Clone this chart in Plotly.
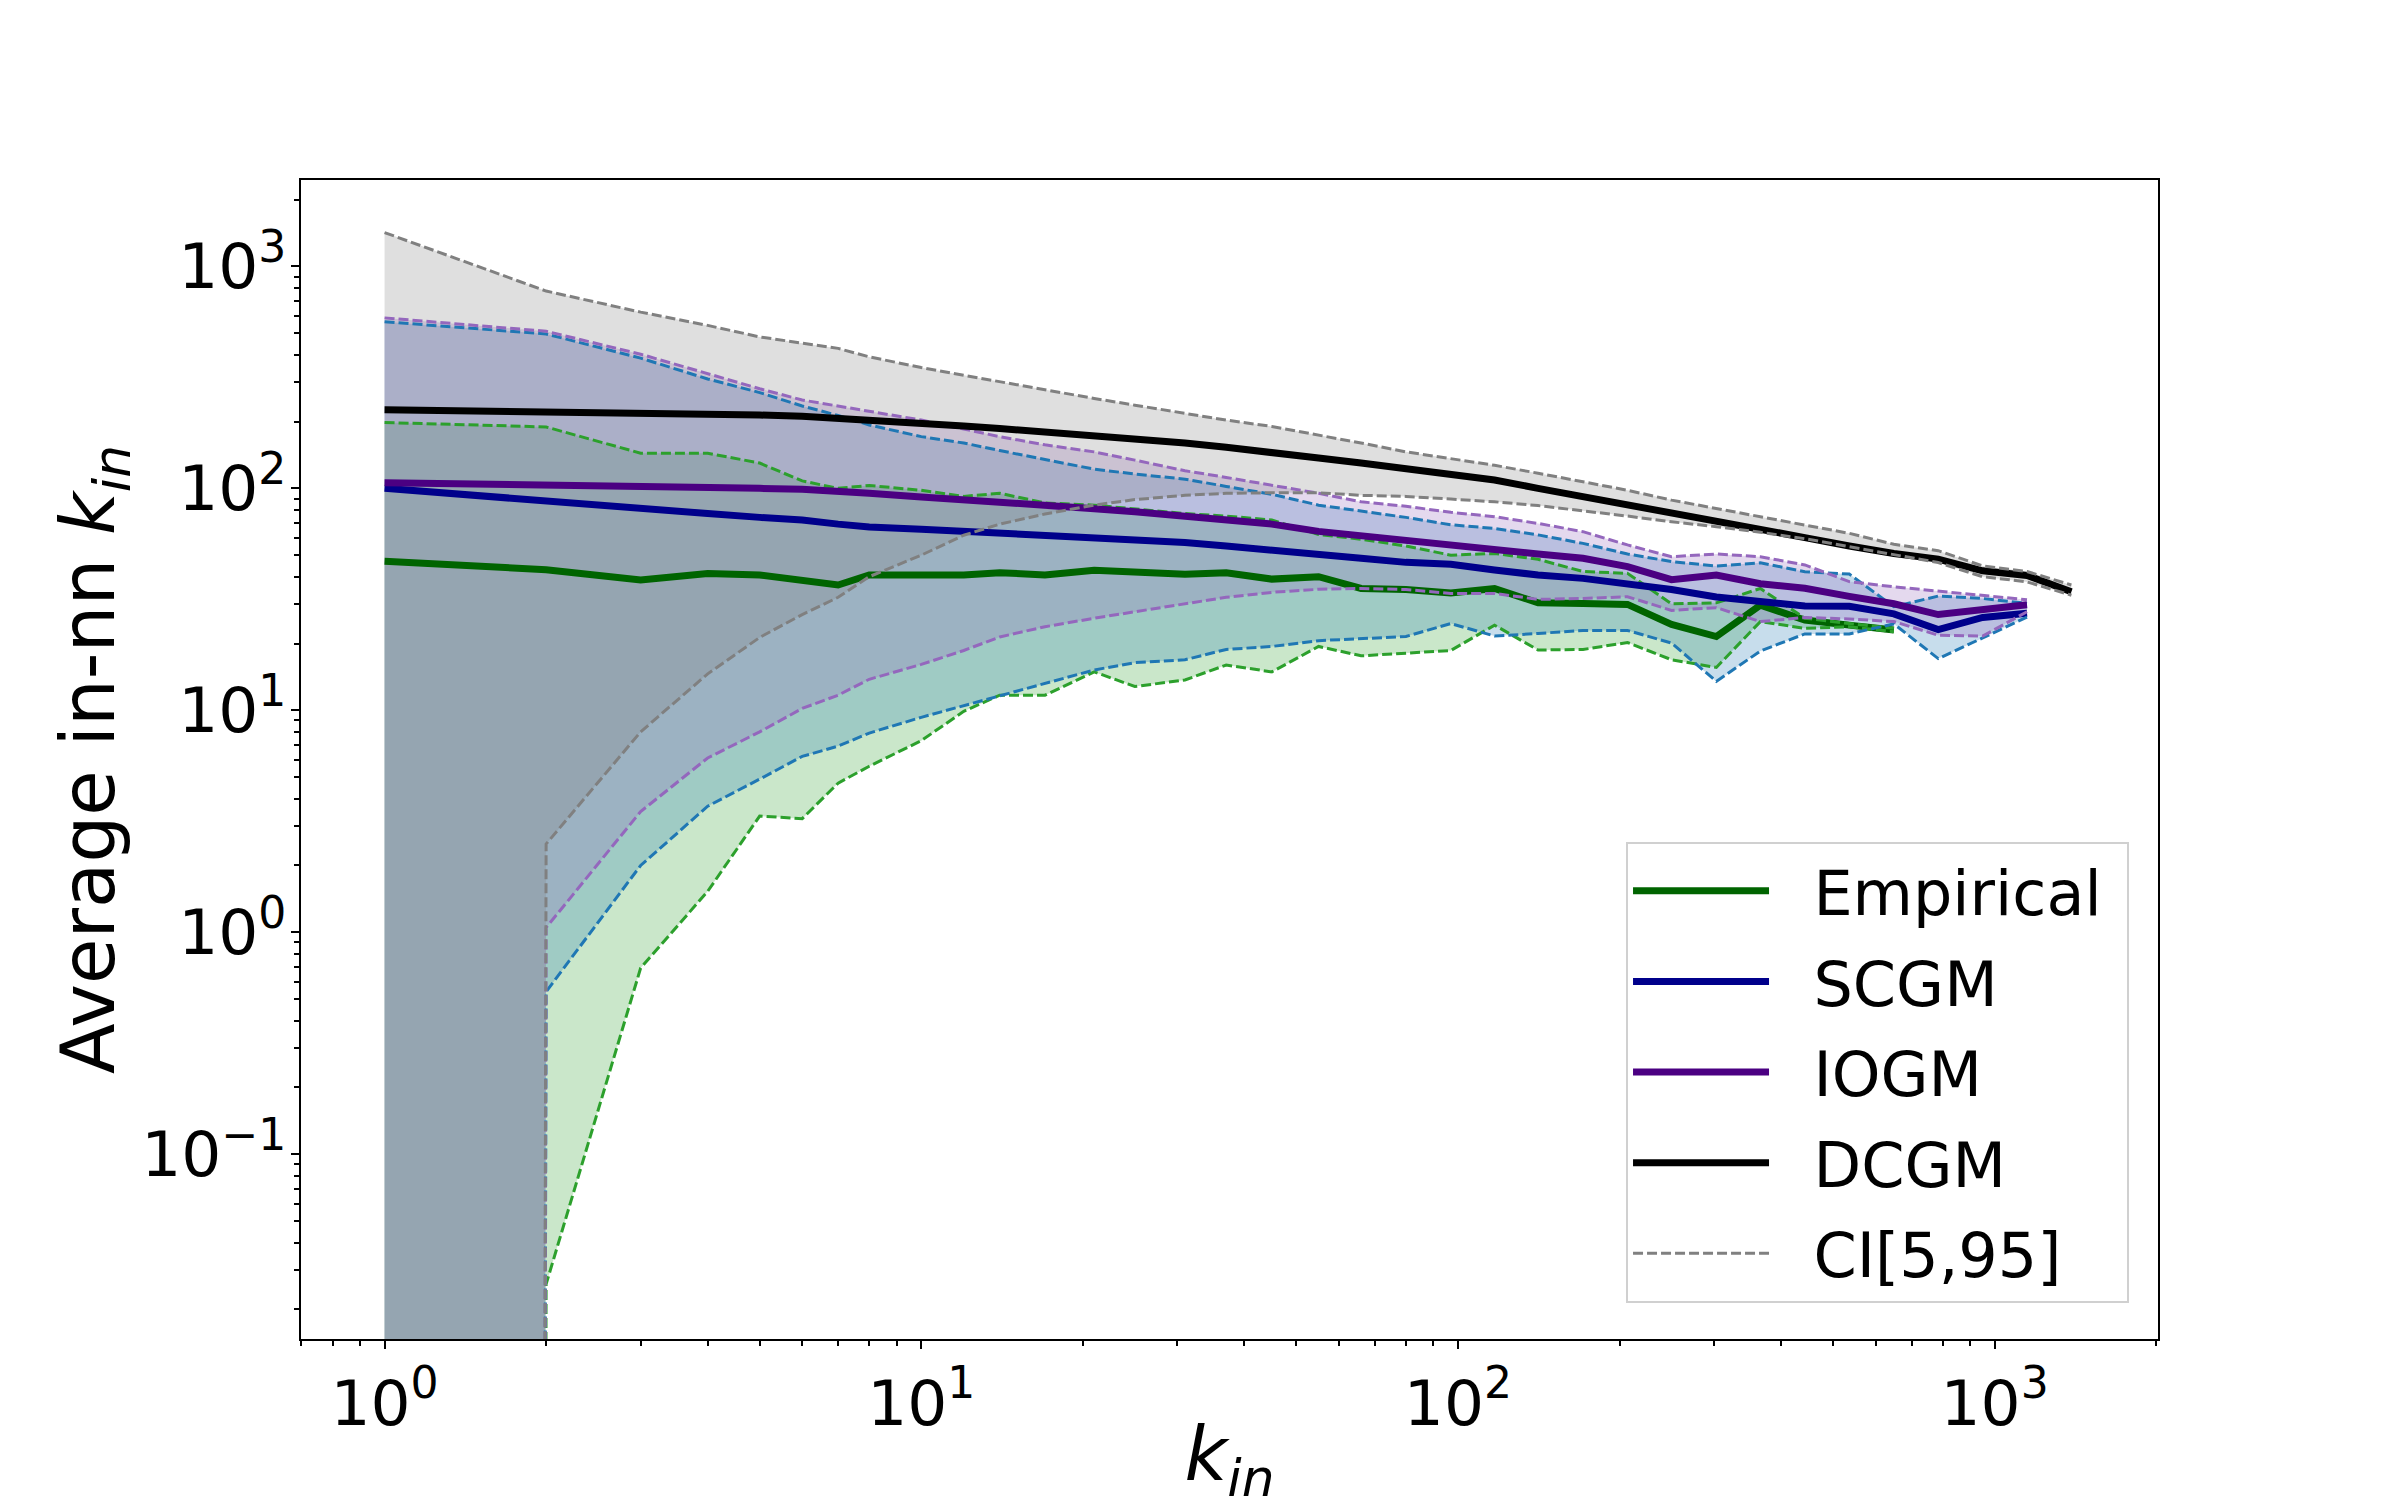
import numpy as np
import plotly.graph_objects as go

# in-degree grid (log binned)
k_in = [1, 2, 3, 4, 5, 6, 7, 8, 10, 12, 14, 17, 21, 25, 31, 37, 45, 55, 66, 80,
        97, 117, 141, 171, 207, 250, 303, 366, 443, 536, 649, 785, 950, 1149, 1390]

# --- Empirical (ends at k=649) ---
emp_mean = [47, 43, 38.7, 41.3, 40.7, 38.7, 36.7, 40.7, 40.3, 40.7, 41.7, 40.7, 42.8, 41.7,
            41.0, 41.7, 39, 40, 35.4, 35, 33.8, 35.4, 30.5, 30.3, 30, 24.4, 21.5, 29.8,
            25.5, 24.2, 23]
emp_hi = [198, 189, 144, 144, 130, 108, 100, 103, 98, 92, 95, 86, 84, 81, 77, 75, 72, 62,
          59, 55, 50, 50.9, 47.9, 42.2, 41.4, 30.2, 30.5, 35.4, 26, 24.6, 23.4]
emp_lo = [0, 0.026, 0.69, 1.53, 3.34, 3.25, 4.7, 5.6, 7.3, 9.9, 11.7, 11.7, 14.9, 12.8,
          13.7, 16, 14.9, 19.4, 17.6, 18.1, 18.6, 24.2, 18.7, 18.8, 20.2, 16.9, 15.6,
          25.1, 23.4, 23.8, 22.6]

# --- SCGM (ends at k=1149) ---
scgm_mean = [100, 87, 80.5, 77, 74, 72, 69, 67, 65.5, 64, 63, 61.7, 60, 59, 57, 55, 52.4,
             50.6, 48.4, 46.4, 45.5, 42.9, 40.7, 39.3, 37.4, 35, 32.4, 30.9, 29.5, 29.4,
             27.2, 23.1, 26.2, 27.4]
scgm_hi = [563, 496, 386, 311, 270, 235, 213, 193, 171, 160, 148, 135, 122, 116, 110, 102,
           94, 84, 79, 74, 68.5, 66, 61.7, 56.5, 50.6, 46.8, 44.7, 46.2, 42.1, 41.1,
           29.3, 32.7, 31.9, 30.3]
scgm_lo = [0, 0.54, 2.0, 3.7, 4.9, 6.2, 6.9, 7.9, 9.3, 10.5, 11.6, 13.2, 15.2, 16.4, 16.9,
           18.8, 19.4, 20.6, 21.1, 21.5, 24.6, 21.6, 22.2, 22.9, 22.9, 20.1, 13.5, 18.5,
           22.1, 22.1, 24.5, 17.1, 21.2, 26.3]

# --- IOGM (ends at k=1149) ---
iogm_mean = [106, 104, 103, 102, 100, 99, 96, 95, 91.5, 89, 87, 85, 81, 78.5, 75, 72, 69,
             64, 61, 58.5, 55.3, 52.7, 50.6, 48.4, 44.4, 38.8, 40.7, 37.2, 35.5, 32.6,
             30.2, 27, 28.6, 29.9]
iogm_hi = [586, 510, 402, 330, 281, 250, 235, 222, 203, 185, 171, 157, 146, 134, 120, 112,
           103, 95, 87, 83, 78, 74.5, 69.5, 63.8, 55.6, 49.2, 50.6, 49.2, 45.2, 38, 36,
           34.5, 33, 31.5]
iogm_lo = [0, 1.05, 3.5, 6.1, 8.0, 10.2, 11.7, 13.8, 16.1, 18.6, 21.4, 23.8, 26, 27.8,
           30.3, 32.3, 34, 35.1, 35.4, 35, 33.6, 33.6, 31.6, 31.9, 32.5, 28.2, 29, 25.1,
           26.2, 25.8, 25.1, 21.8, 21.6, 27.8]

# --- DCGM (ends at k=1390) ---
dcgm_mean = [226, 222, 220, 217, 214, 211, 207, 203, 197, 191, 186, 180, 174, 168, 160,
             153, 146, 137, 130, 122, 114, 109, 100, 92, 84, 77, 70.7, 66, 60, 55, 50.9,
             48, 42.5, 40.5, 34.2]
dcgm_hi = [1420, 774, 622, 542, 481, 450, 427, 391, 350, 323, 302, 277, 254, 237, 218,
           203, 190, 174, 160, 146, 136, 127, 117, 107, 98, 88.5, 81, 74.5, 68.4, 62.7,
           56, 52.4, 44.7, 42.2, 36.7]
dcgm_lo = [0, 2.5, 8, 14.6, 21.3, 27, 32.3, 40, 50, 61.5, 69, 76.6, 84, 89, 93, 95, 95.5,
           95.5, 93, 92, 89.5, 87, 83.6, 79.3, 75, 70.7, 67.2, 63.4, 59.3, 54.6, 50.1,
           46.3, 40, 37.9, 33]

x_ticks = [1, 10, 100, 1000]
x_ticktext = ["10<sup>0</sup>", "10<sup>1</sup>", "10<sup>2</sup>", "10<sup>3</sup>"]
y_ticks = [0.1, 1, 10, 100, 1000]
y_ticktext = ["10<sup>\u22121</sup>", "10<sup>0</sup>", "10<sup>1</sup>",
              "10<sup>2</sup>", "10<sup>3</sup>"]

models = [
    # name, mean, lo, hi, line colour, CI colour, fill colour
    ("Empirical", emp_mean, emp_lo, emp_hi, "#006400", "#2ca02c", "rgba(44,160,44,0.25)"),
    ("SCGM", scgm_mean, scgm_lo, scgm_hi, "#00008b", "#1f77b4", "rgba(31,119,180,0.25)"),
    ("IOGM", iogm_mean, iogm_lo, iogm_hi, "#4b0082", "#9467bd", "rgba(148,103,189,0.25)"),
    ("DCGM", dcgm_mean, dcgm_lo, dcgm_hi, "black", "gray", "rgba(128,128,128,0.25)"),
]

PAD = "\u00a0\u00a0"  # a little room between legend sample and label


def clip(v):
    # zeros can't live on a log axis, push them far below the view like matplotlib does
    return np.clip(np.asarray(v, dtype=float), 1e-300, None)


def label(s):
    return PAD + s + "\u00a0"


fig = go.Figure()

# fills go underneath every line
for name, mean, lo, hi, lc, cc, fc in models:
    x = k_in[:len(mean)]
    fig.add_trace(go.Scatter(x=x, y=clip(lo), mode="lines", line=dict(width=0),
                             showlegend=False, hoverinfo="skip"))
    fig.add_trace(go.Scatter(x=x, y=clip(hi), mode="lines", line=dict(width=0),
                             fill="tonexty", fillcolor=fc,
                             showlegend=False, hoverinfo="skip"))

for name, mean, lo, hi, lc, cc, fc in models:
    x = k_in[:len(mean)]
    fig.add_trace(go.Scatter(x=x, y=mean, mode="lines", name=label(name),
                             legendgroup=name,
                             line=dict(color=lc, width=7)))
    fig.add_trace(go.Scatter(x=x, y=clip(lo), mode="lines", showlegend=False,
                             line=dict(color=cc, width=3, dash="10px,4px")))
    fig.add_trace(go.Scatter(x=x, y=clip(hi), mode="lines",
                             name=label("CI[5,95]"), legendgroup="ci",
                             showlegend=(name == "DCGM"),
                             line=dict(color=cc, width=3, dash="10px,4px")))

axis_common = dict(
    type="log",
    showline=True, linecolor="black", linewidth=2, mirror=True,
    ticks="outside", ticklen=8, tickwidth=2, tickcolor="black",
    minor=dict(ticks="outside", ticklen=5, tickwidth=1.5, tickcolor="black", dtick="D1"),
    showgrid=False, zeroline=False,
    tickfont=dict(family="DejaVu Sans", size=63, color="black"),
)

fig.update_xaxes(**axis_common, range=[-0.1557, 3.3044],
                 tickmode="array", tickvals=x_ticks, ticktext=x_ticktext,
                 title=dict(text="<i>k</i><sub><i>in</i></sub>",
                            font=dict(family="DejaVu Sans", size=74, color="black"),
                            standoff=3))
fig.update_yaxes(**axis_common, range=[-1.832, 3.389],
                 tickmode="array", tickvals=y_ticks, ticktext=y_ticktext,
                 ticklabelstandoff=-8,
                 title=dict(text="Average in-nn <i>k</i><sub><i>in</i></sub>",
                            font=dict(family="DejaVu Sans", size=74, color="black"),
                            standoff=2))

# the page adds an 8px body margin, so the margins are shifted to compensate
fig.update_layout(
    width=2400, height=1500,
    margin=dict(l=293, r=250, t=172, b=169),
    paper_bgcolor="white", plot_bgcolor="white",
    font=dict(family="DejaVu Sans", color="black"),
    legend=dict(x=0.9844, y=0.031, xanchor="right", yanchor="bottom",
                traceorder="grouped", tracegroupgap=7,
                bgcolor="white", bordercolor="#d0d0d0", borderwidth=2,
                font=dict(family="DejaVu Sans", size=62, color="black"),
                itemwidth=136),
)

fig.write_html("out.html")
